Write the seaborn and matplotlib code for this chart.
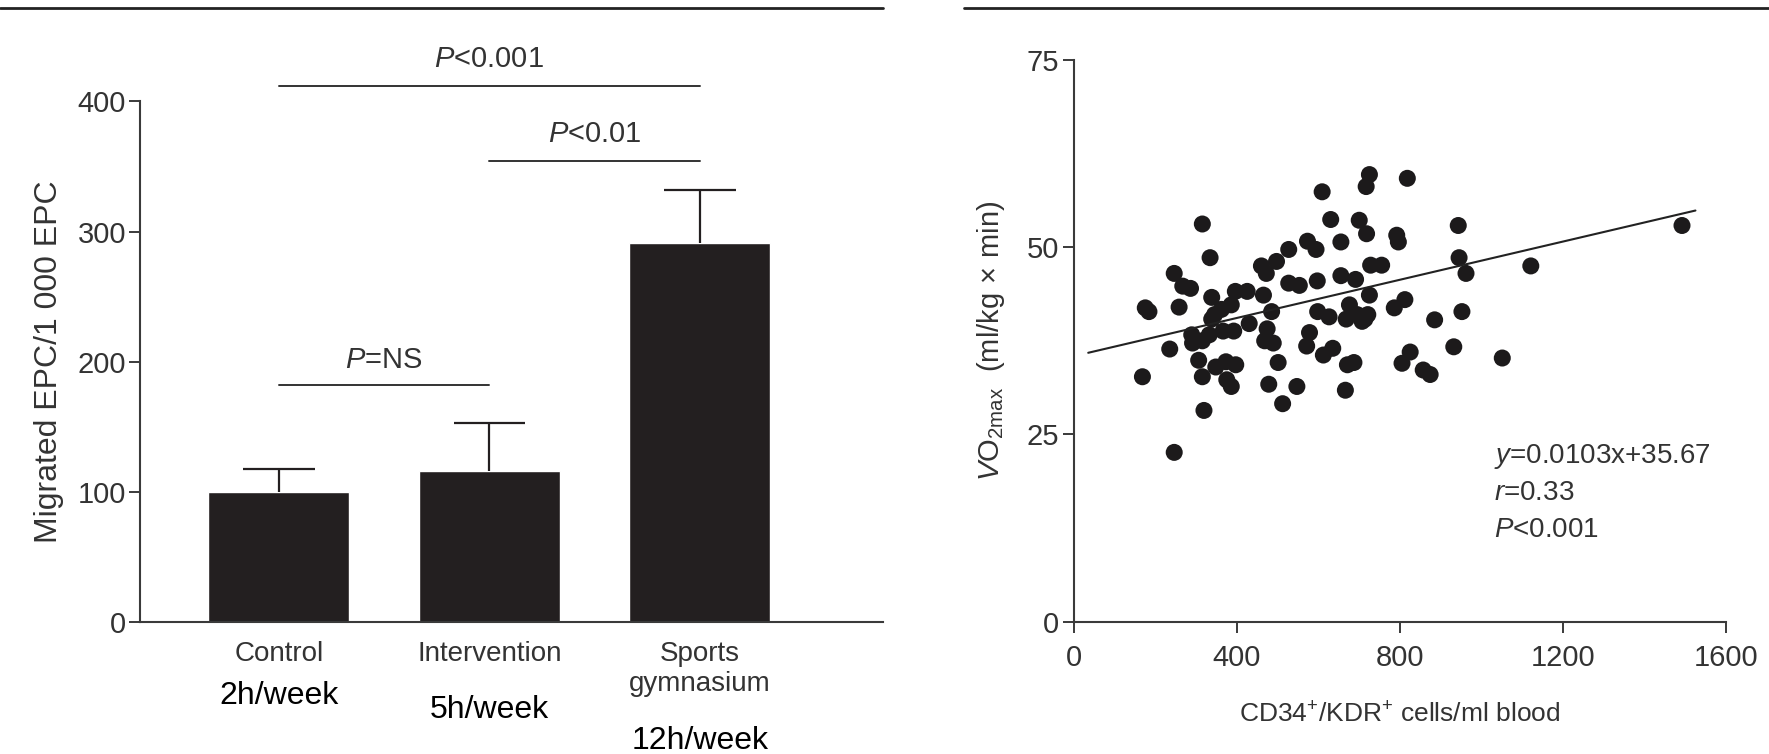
import matplotlib
matplotlib.use("Agg")
import matplotlib.pyplot as plt
import seaborn as sns
import numpy as np
import pandas as pd
from matplotlib.lines import Line2D

# ---------------- data ----------------
categories = ["Control", "Intervention", "Sports\ngymnasium"]
hours_labels = ["2h/week", "5h/week", "12h/week"]
bar_values = [100, 116, 291]
bar_err_upper = [17, 37, 41]

sig_labels = ["P=NS", "P<0.01", "P<0.001"]
sig_pairs = [(0, 1), (1, 2), (0, 2)]
sig_line_y = [182, 354, 412]
sig_text_y = [201, 375, 433]

cd34_x = [168, 175, 184, 246, 235, 246, 258, 267, 286, 289, 291, 306, 315, 315, 319,
          334, 338, 315, 332, 338, 345, 348, 362, 366, 373, 375, 386, 386, 392, 397,
          396, 425, 430, 460, 465, 472, 474, 468, 478, 485, 489, 497, 501, 512, 527,
          527, 547, 553, 571, 578, 573, 594, 597, 598, 609, 612, 626, 630, 635, 655,
          655, 666, 671, 668, 676, 687, 691, 695, 700, 707, 717, 718, 725, 725, 728,
          721, 714, 755, 786, 792, 796, 805, 812, 818, 825, 857, 874, 885, 932, 943,
          945, 952, 962, 1051, 1121, 1492]
vo2_y = [32.7, 41.9, 41.4, 22.6, 36.4, 46.5, 42.0, 44.8, 44.5, 38.3, 37.2, 34.9, 53.1, 32.7, 28.2,
         48.6, 43.3, 37.5, 38.3, 40.4, 41.0, 34.0, 41.7, 38.8, 34.7, 32.3, 31.4, 42.3, 38.8, 34.3,
         44.1, 44.1, 39.8, 47.5, 43.6, 46.5, 39.1, 37.5, 31.7, 41.4, 37.2, 48.1, 34.6, 29.1, 49.7,
         45.2, 31.4, 44.9, 36.8, 38.6, 50.8, 49.7, 45.5, 41.4, 57.4, 35.6, 40.7, 53.7, 36.5, 50.7,
         46.2, 30.9, 34.3, 40.4, 42.3, 34.6, 45.7, 41.0, 53.6, 40.1, 58.1, 51.8, 59.7, 43.6, 47.6,
         41.0, 40.4, 47.6, 41.9, 51.6, 50.7, 34.5, 43.0, 59.2, 36.0, 33.6, 33.0, 40.3, 36.7, 52.9,
         48.6, 41.4, 46.5, 35.2, 47.5, 52.9]
fit_x = [35, 1525]
fit_y = [35.9, 54.9]

stats_lines = [r"$\mathit{y}$=0.0103x+35.67", r"$\mathit{r}$=0.33", r"$\mathit{P}$<0.001"]
stats_y = [22.0, 17.2, 12.2]

# ---------------- style ----------------
sns.set_style("ticks")
plt.rcParams["font.family"] = ["Liberation Sans", "DejaVu Sans"]
plt.rcParams["mathtext.fontset"] = "custom"
plt.rcParams["mathtext.rm"] = "Liberation Sans"
plt.rcParams["mathtext.it"] = "Liberation Sans:italic"
plt.rcParams["mathtext.bf"] = "Liberation Sans:bold"

spine_col = "#3a3a3a"
text_col = "#333333"
bar_col = "#231f20"

fig = plt.figure(figsize=(17.69, 7.54), dpi=100)

# ---------------- left: bar chart ----------------
ax1 = fig.add_axes([0.0791, 0.1756, 0.4201, 0.6898])
df = pd.DataFrame({"group": categories, "value": bar_values})
sns.barplot(data=df, x="group", y="value", color=bar_col, width=0.67,
            saturation=1, ax=ax1, errorbar=None)
xs = np.arange(len(categories))
tops = np.array(bar_values) + np.array(bar_err_upper)
ax1.vlines(xs, bar_values, tops, color=bar_col, lw=1.6)
ax1.hlines(tops, xs - 0.17, xs + 0.17, color=bar_col, lw=1.6)
ax1.set_xlim(-0.66, 2.87)
ax1.set_ylim(0, 400)
ax1.set_yticks([0, 100, 200, 300, 400])
ax1.set_xlabel("")
ax1.set_ylabel("Migrated EPC/1 000 EPC", fontsize=23, color=text_col, labelpad=10)
ax1.tick_params(axis="y", length=8, width=1.4, color=spine_col, labelsize=21,
                labelcolor=text_col, pad=2)
ax1.tick_params(axis="x", length=0, labelsize=20, labelcolor=text_col, pad=14)
for s in ["top", "right"]:
    ax1.spines[s].set_visible(False)
for s in ["left", "bottom"]:
    ax1.spines[s].set_color(spine_col)
    ax1.spines[s].set_linewidth(1.5)

for (a, b), ly, ty, lab in zip(sig_pairs, sig_line_y, sig_text_y, sig_labels):
    ax1.plot([a, b], [ly, ly], color=text_col, lw=1.4, clip_on=False)
    rest = lab[1:]
    ax1.text((a + b) / 2, ty, r"$\mathit{P}$" + rest, ha="center", va="center",
             fontsize=21, color=text_col, clip_on=False)

hours_y = [-57, -68, -92]
for x, lab, hy in zip(xs, hours_labels, hours_y):
    ax1.text(x, hy, lab, ha="center", va="center", fontsize=23, color="black",
             clip_on=False)

# ---------------- right: scatter ----------------
ax2 = fig.add_axes([0.6071, 0.1756, 0.3686, 0.7448])
sns.scatterplot(x=cd34_x, y=vo2_y, color="#1c1a1b", s=150, edgecolor="none",
                linewidth=0, ax=ax2)
sns.lineplot(x=fit_x, y=fit_y, color="#222222", lw=1.5, ax=ax2)
ax2.set_xlim(0, 1600)
ax2.set_ylim(0, 75)
ax2.set_xticks([0, 400, 800, 1200, 1600])
ax2.set_yticks([0, 25, 50, 75])
ax2.set_xlabel(r"CD34$^{+}$/KDR$^{+}$ cells/ml blood", fontsize=19, color=text_col,
               labelpad=22)
ax2.set_ylabel(r"$\mathit{V}$O$_{\mathrm{2max}}$  (ml/kg$\,\times\,$min)", fontsize=21,
               color=text_col, labelpad=14)
ax2.tick_params(axis="both", length=8, width=1.4, color=spine_col, labelsize=21,
                labelcolor=text_col, pad=3)
ax2.tick_params(axis="x", pad=8)
for s in ["top", "right"]:
    ax2.spines[s].set_visible(False)
for s in ["left", "bottom"]:
    ax2.spines[s].set_color(spine_col)
    ax2.spines[s].set_linewidth(1.5)

for sy, sl in zip(stats_y, stats_lines):
    ax2.text(1031, sy, sl, ha="left", va="center", fontsize=20, color=text_col)

# ---------------- top rules ----------------
fig.add_artist(Line2D([0, 883 / 1769], [1 - 8 / 754] * 2, color="#222222", lw=2,
                      transform=fig.transFigure))
fig.add_artist(Line2D([964 / 1769, 1], [1 - 8 / 754] * 2, color="#222222", lw=2,
                      transform=fig.transFigure))

fig.savefig("out.png", dpi=100)
